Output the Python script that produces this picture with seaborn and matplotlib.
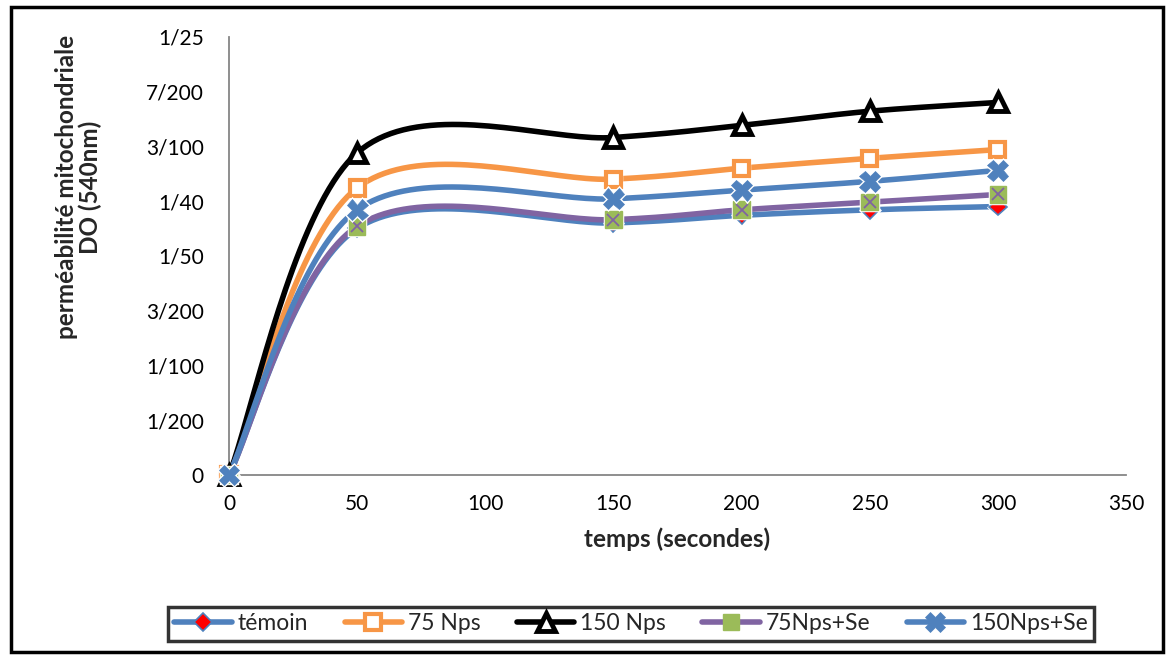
import numpy as np
import pandas as pd
import matplotlib
matplotlib.use("Agg")
import matplotlib.pyplot as plt
from matplotlib.lines import Line2D
from matplotlib.ticker import FuncFormatter, MultipleLocator
from matplotlib.patches import Rectangle
import matplotlib.patheffects as pe
from fractions import Fraction
import seaborn as sns

# Time points (seconds)
temps = [0, 50, 150, 200, 250, 300]

# Optical density at 540 nm for each treatment
temoin = [0, 0.0225, 0.0230, 0.0237, 0.0242, 0.0245]
nps75 = [0, 0.0262, 0.0270, 0.0280, 0.0289, 0.0297]
nps150 = [0, 0.0294, 0.0308, 0.0319, 0.0332, 0.0340]
nps75_se = [0, 0.0227, 0.0233, 0.0242, 0.0249, 0.0256]
nps150_se = [0, 0.0242, 0.0252, 0.0260, 0.0268, 0.0278]

series_names = ["témoin", "75 Nps", "150 Nps", "75Nps+Se", "150Nps+Se"]
series_values = [temoin, nps75, nps150, nps75_se, nps150_se]

sns.set_style("white")
plt.rcParams["font.family"] = ["Lato", "DejaVu Sans"]

W, H, DPI = 1171, 659, 100
fig = plt.figure(figsize=(W / DPI, H / DPI), dpi=DPI)
ax = fig.add_axes([229 / W, 1 - 475 / H, (1126 - 229) / W, (475 - 36.7) / H])

XMAX, YMAX = 350, 0.04
PW, PH = 897.0, 438.0


def smooth(xs, ys, n=40):
    """Bezier smoothing through every point, computed in screen proportions."""
    p = np.column_stack([np.asarray(xs, float) / XMAX * PW,
                         np.asarray(ys, float) / YMAX * PH])
    out = [p[0]]
    for i in range(len(p) - 1):
        p0 = p[i - 1] if i > 0 else p[i]
        p1, p2 = p[i], p[i + 1]
        p3 = p[i + 2] if i + 2 < len(p) else p[i + 1]
        c1 = p1 + (p2 - p0) / 6.0
        c2 = p2 - (p3 - p1) / 6.0
        t = np.linspace(0, 1, n)[1:, None]
        seg = ((1 - t) ** 3) * p1 + 3 * ((1 - t) ** 2) * t * c1 \
            + 3 * (1 - t) * t ** 2 * c2 + t ** 3 * p2
        out.extend(seg)
    out = np.array(out)
    return out[:, 0] / PW * XMAX, out[:, 1] / PH * YMAX


styles = {
    "témoin": dict(color="#4F81BD", marker="D", ms=9, mfc="#FF0000",
                   mec="#4F81BD", mew=1.2),
    "75 Nps": dict(color="#F79646", marker="s", ms=11, mfc="white",
                   mec="#F79646", mew=3),
    "150 Nps": dict(color="black", marker="^", ms=13, mfc="white",
                    mec="black", mew=3.5),
    "75Nps+Se": dict(color="#8064A2", marker="s", ms=12, mfc="#9BBB59",
                     mec="#9BBB59", mew=1),
    "150Nps+Se": dict(color="#4F81BD", marker="X", ms=15, mfc="#4F81BD",
                      mec="#4F81BD", mew=0.5),
}

rows = []
for name, vals in zip(series_names, series_values):
    sx, sy = smooth(temps, vals)
    rows.append(pd.DataFrame({"temps": sx, "DO": sy, "serie": name}))
curves = pd.concat(rows, ignore_index=True)

for k, name in enumerate(series_names):
    st = styles[name]
    sns.lineplot(data=curves[curves["serie"] == name], x="temps", y="DO",
                 color=st["color"], lw=4, ax=ax, sort=False,
                 estimator=None, zorder=2 + k * 0.01, legend=False)

white_edge = [pe.Stroke(linewidth=2.5, foreground="white"), pe.Normal()]
for k, (name, vals) in enumerate(zip(series_names, series_values)):
    st = styles[name]
    ax.plot(temps, vals, ls="none", marker=st["marker"], ms=st["ms"],
            mfc=st["mfc"], mec=st["mec"], mew=st["mew"], zorder=5 + k,
            path_effects=white_edge, clip_on=False)
    if name == "75Nps+Se":
        ax.plot(temps, vals, ls="none", marker="x", ms=9, mec="#8064A2",
                mew=1.3, zorder=5 + k, clip_on=False)

ax.set_xlim(0, XMAX)
ax.set_ylim(0, YMAX)
ax.xaxis.set_major_locator(MultipleLocator(50))
ax.yaxis.set_major_locator(MultipleLocator(0.005))


def frac_fmt(v, pos):
    f = Fraction(v).limit_denominator(1000)
    if f == 0:
        return "0"
    return f"{f.numerator}/{f.denominator}"


ax.yaxis.set_major_formatter(FuncFormatter(frac_fmt))
ax.xaxis.set_major_formatter(FuncFormatter(lambda v, p: f"{int(round(v))}"))

for side in ["top", "right"]:
    ax.spines[side].set_visible(False)
for side in ["left", "bottom"]:
    ax.spines[side].set_color("#868686")
    ax.spines[side].set_linewidth(1.3)
ax.tick_params(axis="both", which="major", direction="out", length=6,
               width=1.2, color="#868686", labelsize=15, labelcolor="black")
ax.tick_params(axis="y", pad=12)
ax.tick_params(axis="x", pad=8)

ax.set_xlabel("temps (secondes)", fontsize=17.5, fontweight="bold",
              labelpad=9)
ax.set_ylabel("perméabilité mitochondriale\nDO (540nm)", fontsize=17.5,
              fontweight="bold", linespacing=1.05)
ax.yaxis.set_label_coords(-0.1415, 0.657)

handles = []
for name in series_names:
    st = styles[name]
    handles.append(Line2D([0], [0], color=st["color"], lw=4,
                          marker=st["marker"], ms=st["ms"], mfc=st["mfc"],
                          mec=st["mec"], mew=st["mew"]))
leg = fig.legend(handles, series_names, loc="center",
                 bbox_to_anchor=(631 / W, 1 - 624 / H), ncol=5,
                 frameon=True, fancybox=False, fontsize=16.5,
                 handlelength=2.5, handletextpad=0.25, columnspacing=1.6,
                 borderpad=0.3, borderaxespad=0.3, numpoints=1)
leg.get_frame().set_edgecolor("black")
leg.get_frame().set_linewidth(2.5)

fig.patches.append(Rectangle((11 / W, 1 - 652 / H), (1163 - 11) / W,
                             (652 - 7) / H, transform=fig.transFigure,
                             fill=False, edgecolor="black", lw=2.5))

fig.savefig("out.png", dpi=DPI, facecolor="white")
